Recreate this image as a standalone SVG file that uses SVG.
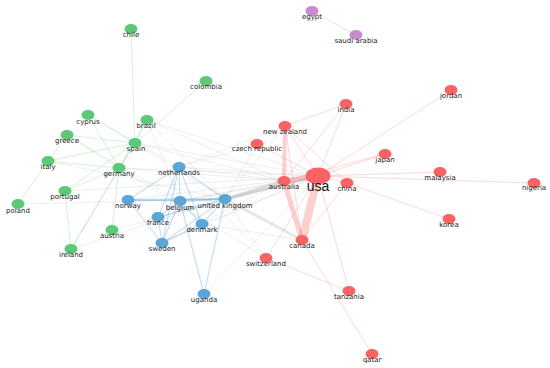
<svg xmlns="http://www.w3.org/2000/svg" width="550" height="368" viewBox="0 0 550 368">
<style>
.g{fill:#5cc878}.b{fill:#5aa6d8}.r{fill:#f96363}.p{fill:#c98bd0}
.eg{stroke:#a0a0a0;stroke-opacity:.18;stroke-width:1;fill:none}
.egt{stroke:#a0a0a0;stroke-opacity:.3;stroke-width:3;fill:none}
.egr{stroke:#5cc878;stroke-opacity:.25;stroke-width:1;fill:none}
.ebl{stroke:#5aa6d8;stroke-opacity:.35;stroke-width:1.2;fill:none}
.ebt{stroke:#5aa6d8;stroke-opacity:.4;stroke-width:2;fill:none}
.er{stroke:#f96363;stroke-opacity:.25;stroke-width:1;fill:none}
.ert{stroke:#f96363;stroke-opacity:.3;stroke-width:5;fill:none}
.ep{stroke:#c98bd0;stroke-opacity:.3;stroke-width:1;fill:none}
text{font-family:"DejaVu Sans","Liberation Sans",sans-serif;font-size:7px;fill:#1a1a1a;text-anchor:middle}
</style>
<rect width="550" height="368" fill="#fff"/>
<g id="connectors">
<line class="egt" x1="225" y1="199" x2="318" y2="176"/>
<line class="egt" x1="225" y1="199" x2="284" y2="181"/>
<line class="eg" x1="225" y1="199" x2="302" y2="240" style="stroke-width:3;stroke-opacity:.25"/>
<line class="eg" x1="179" y1="167" x2="318" y2="176"/>
<line class="eg" x1="179" y1="167" x2="284" y2="181"/>
<line class="eg" x1="180" y1="201" x2="318" y2="176"/>
<line class="eg" x1="180" y1="201" x2="284" y2="181"/>
<line class="eg" x1="119" y1="168" x2="318" y2="176"/>
<line class="eg" x1="119" y1="168" x2="284" y2="181"/>
<line class="eg" x1="135" y1="143" x2="318" y2="176"/>
<line class="eg" x1="135" y1="143" x2="284" y2="181"/>
<line class="eg" x1="147" y1="120" x2="318" y2="176"/>
<line class="eg" x1="147" y1="120" x2="284" y2="181"/>
<line class="eg" x1="147" y1="120" x2="225" y2="199"/>
<line class="eg" x1="147" y1="120" x2="180" y2="201"/>
<line class="eg" x1="135" y1="143" x2="225" y2="199"/>
<line class="eg" x1="128" y1="200" x2="318" y2="176"/>
<line class="eg" x1="162" y1="243" x2="318" y2="176"/>
<line class="eg" x1="202" y1="224" x2="318" y2="176"/>
<line class="eg" x1="158" y1="217" x2="318" y2="176"/>
<line class="eg" x1="204" y1="294" x2="318" y2="176"/>
<line class="eg" x1="225" y1="199" x2="266" y2="258"/>
<line class="eg" x1="179" y1="167" x2="266" y2="258"/>
<line class="eg" x1="119" y1="168" x2="266" y2="258"/>
<line class="eg" x1="257" y1="144" x2="179" y2="167"/>
<line class="eg" x1="257" y1="144" x2="225" y2="199"/>
<line class="eg" x1="112" y1="230" x2="318" y2="176"/>
<line class="eg" x1="71" y1="249" x2="225" y2="199"/>
<line class="eg" x1="65" y1="191" x2="318" y2="176"/>
<line class="eg" x1="48" y1="161" x2="225" y2="199"/>
<line class="eg" x1="67" y1="135" x2="180" y2="201"/>
<line class="eg" x1="18" y1="204" x2="225" y2="199"/>
<line class="eg" x1="88" y1="115" x2="179" y2="167"/>
<line class="eg" x1="285" y1="126" x2="179" y2="167"/>
<line class="eg" x1="285" y1="126" x2="225" y2="199"/>
<line class="eg" x1="202" y1="224" x2="302" y2="240"/>
<line class="eg" x1="162" y1="243" x2="284" y2="181"/>
<line class="egr" x1="131" y1="29" x2="135" y2="143"/>
<line class="egr" x1="206" y1="81" x2="135" y2="143"/>
<line class="egr" x1="88" y1="115" x2="119" y2="168"/>
<line class="egr" x1="88" y1="115" x2="135" y2="143"/>
<line class="egr" x1="67" y1="135" x2="135" y2="143"/>
<line class="egr" x1="67" y1="135" x2="48" y2="161"/>
<line class="egr" x1="67" y1="135" x2="119" y2="168"/>
<line class="egr" x1="48" y1="161" x2="135" y2="143"/>
<line class="egr" x1="48" y1="161" x2="119" y2="168"/>
<line class="egr" x1="48" y1="161" x2="18" y2="204"/>
<line class="egr" x1="147" y1="120" x2="135" y2="143"/>
<line class="egr" x1="147" y1="120" x2="119" y2="168"/>
<line class="egr" x1="135" y1="143" x2="119" y2="168"/>
<line class="egr" x1="65" y1="191" x2="71" y2="249"/>
<line class="egr" x1="65" y1="191" x2="135" y2="143"/>
<line class="egr" x1="65" y1="191" x2="119" y2="168"/>
<line class="egr" x1="112" y1="230" x2="119" y2="168"/>
<line class="egr" x1="71" y1="249" x2="119" y2="168"/>
<line class="egr" x1="71" y1="249" x2="135" y2="143"/>
<line class="ebt" x1="128" y1="200" x2="225" y2="199"/>
<line class="ebl" x1="128" y1="200" x2="162" y2="243"/>
<line class="ebl" x1="128" y1="200" x2="180" y2="201"/>
<line class="ebl" x1="179" y1="167" x2="180" y2="201"/>
<line class="ebl" x1="179" y1="167" x2="158" y2="217"/>
<line class="ebl" x1="179" y1="167" x2="162" y2="243"/>
<line class="ebl" x1="179" y1="167" x2="225" y2="199"/>
<line class="ebl" x1="179" y1="167" x2="202" y2="224"/>
<line class="ebt" x1="180" y1="201" x2="225" y2="199"/>
<line class="ebl" x1="180" y1="201" x2="204" y2="294"/>
<line class="ebl" x1="225" y1="199" x2="204" y2="294"/>
<line class="ebl" x1="225" y1="199" x2="162" y2="243"/>
<line class="ebl" x1="225" y1="199" x2="158" y2="217"/>
<line class="ebl" x1="225" y1="199" x2="202" y2="224"/>
<line class="ebl" x1="158" y1="217" x2="162" y2="243"/>
<line class="ebl" x1="202" y1="224" x2="162" y2="243"/>
<line class="ebl" x1="180" y1="201" x2="162" y2="243"/>
<line class="ebl" x1="180" y1="201" x2="202" y2="224"/>
<line class="ebl" x1="158" y1="217" x2="180" y2="201"/>
<line class="ebl" x1="128" y1="200" x2="179" y2="167"/>
<line class="ert" x1="318" y1="176" x2="302" y2="240" style="stroke-width:8"/>
<line class="ert" x1="318" y1="176" x2="284" y2="181"/>
<line class="ert" x1="284" y1="181" x2="302" y2="240"/>
<line class="ert" x1="284" y1="181" x2="285" y2="126" style="stroke-width:4"/>
<line class="er" x1="318" y1="176" x2="285" y2="126"/>
<line class="er" x1="285" y1="126" x2="346" y2="104"/>
<line class="er" x1="318" y1="176" x2="346" y2="104"/>
<line class="er" x1="284" y1="181" x2="346" y2="104"/>
<line class="er" x1="318" y1="176" x2="451" y2="90"/>
<line class="er" x1="318" y1="176" x2="385" y2="154"/>
<line class="er" x1="284" y1="181" x2="385" y2="154"/>
<line class="er" x1="318" y1="176" x2="440" y2="172"/>
<line class="er" x1="318" y1="176" x2="534" y2="183"/>
<line class="er" x1="347" y1="183" x2="449" y2="219"/>
<line class="er" x1="318" y1="176" x2="347" y2="183"/>
<line class="er" x1="302" y1="240" x2="347" y2="183"/>
<line class="er" x1="318" y1="176" x2="349" y2="291"/>
<line class="er" x1="302" y1="240" x2="372" y2="354"/>
<line class="er" x1="266" y1="258" x2="349" y2="291"/>
<line class="er" x1="266" y1="258" x2="318" y2="176"/>
<line class="er" x1="285" y1="126" x2="347" y2="183"/>
<line class="er" x1="285" y1="126" x2="302" y2="240"/>
<line class="er" x1="257" y1="144" x2="318" y2="176"/>
<line class="ep" x1="312" y1="11" x2="356" y2="35"/>
</g>
<g id="chile"><ellipse class="g" cx="131" cy="29" rx="6.5" ry="5"/><text x="131" y="37">chile</text></g>
<g id="colombia"><ellipse class="g" cx="206" cy="81" rx="6.5" ry="5"/><text x="206" y="89">colombia</text></g>
<g id="cyprus"><ellipse class="g" cx="88" cy="115" rx="6.5" ry="5"/><text x="88" y="124">cyprus</text></g>
<g id="brazil"><ellipse class="g" cx="147" cy="120" rx="6.5" ry="5"/><text x="146" y="128">brazil</text></g>
<g id="greece"><ellipse class="g" cx="67" cy="135" rx="6.5" ry="5"/><text x="67" y="143">greece</text></g>
<g id="spain"><ellipse class="g" cx="135" cy="143" rx="6.5" ry="5"/><text x="136" y="151">spain</text></g>
<g id="italy"><ellipse class="g" cx="48" cy="161" rx="6.5" ry="5"/><text x="48" y="169">italy</text></g>
<g id="germany"><ellipse class="g" cx="119" cy="168" rx="6.5" ry="5"/><text x="119" y="176">germany</text></g>
<g id="portugal"><ellipse class="g" cx="65" cy="191" rx="6.5" ry="5"/><text x="65" y="199">portugal</text></g>
<g id="poland"><ellipse class="g" cx="18" cy="204" rx="6.5" ry="5"/><text x="18" y="213">poland</text></g>
<g id="austria"><ellipse class="g" cx="112" cy="230" rx="6.5" ry="5"/><text x="112" y="238">austria</text></g>
<g id="ireland"><ellipse class="g" cx="71" cy="249" rx="6.5" ry="5"/><text x="71" y="257">ireland</text></g>
<g id="netherlands"><ellipse class="b" cx="179" cy="167" rx="6.5" ry="5"/><text x="179" y="175">netherlands</text></g>
<g id="norway"><ellipse class="b" cx="128" cy="200" rx="6.5" ry="5"/><text x="128" y="208">norway</text></g>
<g id="belgium"><ellipse class="b" cx="180" cy="201" rx="6.5" ry="5"/><text x="180" y="210">belgium</text></g>
<g id="united-kingdom"><ellipse class="b" cx="225" cy="199" rx="6.5" ry="5"/><text x="225" y="208">united kingdom</text></g>
<g id="france"><ellipse class="b" cx="158" cy="217" rx="6.5" ry="5"/><text x="158" y="225">france</text></g>
<g id="denmark"><ellipse class="b" cx="202" cy="224" rx="6.5" ry="5"/><text x="202" y="232">denmark</text></g>
<g id="sweden"><ellipse class="b" cx="162" cy="243" rx="6.5" ry="5"/><text x="162" y="251">sweden</text></g>
<g id="uganda"><ellipse class="b" cx="204" cy="294" rx="6.5" ry="5"/><text x="204" y="302">uganda</text></g>
<g id="egypt"><ellipse class="p" cx="312" cy="11" rx="6.5" ry="5"/><text x="312" y="19">egypt</text></g>
<g id="saudi-arabia"><ellipse class="p" cx="356" cy="35" rx="6.5" ry="5"/><text x="356" y="43">saudi arabia</text></g>
<g id="czech-republic"><ellipse class="r" cx="257" cy="144" rx="6.5" ry="5"/><text x="257" y="151">czech republic</text></g>
<g id="jordan"><ellipse class="r" cx="451" cy="90" rx="6.5" ry="5"/><text x="451" y="98">jordan</text></g>
<g id="india"><ellipse class="r" cx="346" cy="104" rx="6.5" ry="5"/><text x="346" y="112">india</text></g>
<g id="new-zealand"><ellipse class="r" cx="285" cy="126" rx="6.5" ry="5"/><text x="285" y="134">new zealand</text></g>
<g id="japan"><ellipse class="r" cx="385" cy="154" rx="6.5" ry="5"/><text x="385" y="162">japan</text></g>
<g id="malaysia"><ellipse class="r" cx="440" cy="172" rx="6.5" ry="5"/><text x="440" y="180">malaysia</text></g>
<g id="nigeria"><ellipse class="r" cx="534" cy="183" rx="6.5" ry="5"/><text x="534" y="190">nigeria</text></g>
<g id="australia"><ellipse class="r" cx="284" cy="181" rx="6.5" ry="5"/><text x="284" y="189">australia</text></g>
<g id="china"><ellipse class="r" cx="347" cy="183" rx="6.5" ry="5"/><text x="347" y="191">china</text></g>
<g id="korea"><ellipse class="r" cx="449" cy="219" rx="6.5" ry="5"/><text x="449" y="227">korea</text></g>
<g id="canada"><ellipse class="r" cx="302" cy="240" rx="6.5" ry="5"/><text x="302" y="248">canada</text></g>
<g id="switzerland"><ellipse class="r" cx="266" cy="258" rx="6.5" ry="5"/><text x="266" y="266">switzerland</text></g>
<g id="tanzania"><ellipse class="r" cx="349" cy="291" rx="6.5" ry="5"/><text x="349" y="299">tanzania</text></g>
<g id="qatar"><ellipse class="r" cx="372" cy="354" rx="6.5" ry="5"/><text x="372" y="362">qatar</text></g>
<g id="usa"><ellipse class="r" cx="318" cy="176" rx="12.5" ry="8.5"/><text x="318" y="191" style="font-size:14px;fill:#111;font-family:'Liberation Sans',sans-serif">usa</text></g>
</svg>
